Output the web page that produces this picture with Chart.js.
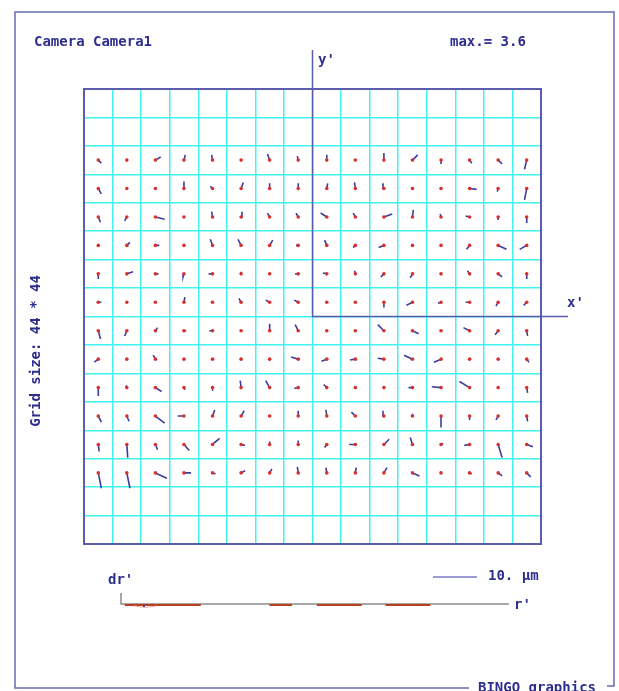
<!DOCTYPE html>
<html><head><meta charset="utf-8">
<script src="https://cdn.jsdelivr.net/npm/chart.js@4"></script>
<style>html,body{margin:0;padding:0;background:#fff;}#wrap{width:619px;height:691px;}</style>
</head><body><div id="wrap"><canvas id="c" width="619" height="691"></canvas></div>
<script>
// ---- data ----
const titleText = "Camera Camera1";
const maxText = "max.= 3.6";
const gridText = "Grid size: 44 * 44";
const scaleText = "10. \u00b5m";
const footerText = "BINGO graphics";
const gridCols = 16;
const gridRows = 16;
const firstVectorRow = 2;           // vector rows (from the top) start here
const scaleBarUm = 10;              // scale bar length in µm
const umToCells = 0.154;            // vector scale: cells per µm
// displacement per grid node, µm (dx to the right, dy upward), rows from top
const dxUm = [
 [0.7,0,1.2,0.3,-0.2,0,-0.5,-0.2,0,0,0,1.2,0,0.5,0.9,-0.5],
 [0.7,0,0,0,-0.5,0.5,0,0,0.2,-0.2,-0.2,0,0.2,1.6,-0.2,-0.5],
 [0.5,-0.5,2.1,0,-0.2,0.2,-0.5,-0.5,-1.4,-0.5,1.9,0.2,-0.2,-0.9,0,0],
 [0.2,0.7,0.9,0,-0.5,-0.7,0.7,-0.5,-0.5,-0.5,-1.2,0,0,-0.7,1.9,-1.6],
 [0,1.4,0.7,-0.2,-0.9,0,0,-0.7,-0.9,-0.2,-0.7,-0.5,0,-0.5,0.9,0],
 [0.7,0,0.2,0.2,0,-0.5,-0.9,-0.9,0,0,0,-1.4,-0.7,-0.9,-0.5,-0.7],
 [0.5,-0.5,0.5,0.5,-0.7,0,0,-0.7,0,0,-1.4,1.4,0,-1.4,-0.7,0.2],
 [-0.9,0,-0.5,-0.2,0.2,-0.2,-0.2,-1.6,-1.2,-1.2,-1.4,-1.9,-1.6,0,0,0.5],
 [0,-0.2,1.4,0.2,0,-0.2,-0.9,-0.9,-0.7,-0.2,0,-0.9,-2.1,-2.3,0,0.2],
 [0.7,0.5,2.1,-1.4,0.5,0.7,0,0,-0.2,-0.9,-0.2,0,0,0,-0.5,0.2],
 [0.2,0.2,0.5,1.2,1.6,0.9,0,0,-0.5,-1.4,1.2,-0.5,0.5,-1.2,0.9,1.4],
 [0.7,0.7,2.6,1.6,0.7,0.9,0.5,-0.2,-0.2,0.2,0.7,1.6,0,0.5,0.9,0.9]
];
const dyUm = [
 [-0.7,0,0.7,1.2,1.2,0,1.4,0.9,1.2,0,1.6,1.2,-0.9,-0.7,-0.9,-2.1],
 [-1.2,0,0,1.6,0.5,1.4,1.2,1.2,1.2,1.4,1.2,0,0,-0.2,-0.7,-2.6],
 [-1.2,-0.9,-0.5,0,1.2,1.2,0.9,0.9,0.9,0.9,0.7,1.6,0.7,0.2,-0.7,-1.4],
 [0,0.7,0,-0.2,1.4,1.4,1.2,0,1.2,-0.5,-0.5,0,0,-0.9,-0.9,-0.9],
 [-1.2,0.5,0,-0.7,0,0.5,0,0,0.2,0.7,-0.7,-0.9,0,0.7,-0.7,-1.2],
 [0,0,0,1.2,0,0.9,0.5,0.5,0,0,-1.2,-0.7,-0.2,0,-0.9,-0.7],
 [-1.9,-1.2,0.7,0,0,0,1.6,1.4,0,0,1.4,-0.7,0,0.7,-0.9,-1.2],
 [-0.7,0,0.9,0,0.2,0,-0.2,0.5,-0.5,-0.2,0.2,0.9,-0.7,0,0,-0.7],
 [-1.9,0.5,-0.9,-0.5,-0.7,1.6,1.6,-0.2,0.7,0,0,0,0.2,1.4,0,-1.2],
 [-1.4,-1.2,-1.6,0,1.4,1.2,0,1.2,1.4,0.9,1.2,0.5,-2.6,-0.9,-0.9,-1.2],
 [-1.6,-3.0,-1.2,-1.4,1.4,-0.2,0.7,0.9,-0.7,0,1.2,1.6,0.2,-0.2,-3.0,-0.5],
 [-3.5,-3.5,-1.2,0,-0.2,0.5,0.9,1.4,1.2,1.2,1.2,-0.7,0,-0.2,-0.7,-0.9]
];
// radial residual strip (r' range and highlighted r' intervals)
const radialMax = 31.1;
const radialSegments = [[0.3, 6.4], [11.9, 13.7], [15.7, 19.3], [21.2, 24.8]];

// ---- build datasets ----
const dots = [];
const segs = [];
dxUm.forEach((row, r) => {
  row.forEach((dx, c) => {
    const x = c + 0.5;
    const y = gridRows - (firstVectorRow + r + 0.5);
    dots.push({x, y});
    segs.push({x, y});
    segs.push({x: x + dx * umToCells, y: y + dyUm[r][c] * umToCells});
    segs.push({x, y: null});
  });
});

const NAVY = '#2e2e8e';
const FRAME = '#6a6ab4';
const FONT = 'bold 14px "DejaVu Sans Mono", "Liberation Mono", monospace';

const decor = {
  id: 'decor',
  beforeDatasetsDraw(chart) {
    const ctx = chart.ctx, xs = chart.scales.x, ys = chart.scales.y, a = chart.chartArea;
    ctx.save();
    ctx.strokeStyle = '#5c5cac'; ctx.lineWidth = 2;
    ctx.strokeRect(a.left, a.top, a.right - a.left, a.bottom - a.top);
    const ox = xs.getPixelForValue(gridCols / 2), oy = ys.getPixelForValue(gridRows / 2);
    ctx.strokeStyle = '#5c5cac'; ctx.lineWidth = 1.5;
    ctx.beginPath();
    ctx.moveTo(ox, 50); ctx.lineTo(ox, oy); ctx.lineTo(568, oy);
    ctx.stroke();
    ctx.restore();
  },
  afterDraw(chart) {
    const ctx = chart.ctx, xs = chart.scales.x;
    ctx.save();
    ctx.strokeStyle = FRAME; ctx.lineWidth = 1.5;
    ctx.beginPath();
    ctx.moveTo(469, 688); ctx.lineTo(15, 688); ctx.lineTo(15, 12);
    ctx.lineTo(614, 12); ctx.lineTo(614, 686); ctx.lineTo(607, 686);
    ctx.stroke();
    ctx.fillStyle = NAVY; ctx.font = FONT; ctx.textBaseline = 'middle'; ctx.textAlign = 'left';
    ctx.fillText(titleText, 34, 42);
    ctx.fillText(maxText, 450, 42);
    ctx.fillText("y'", 318, 60);
    ctx.fillText("x'", 567, 303);
    ctx.fillText("dr'", 108, 580);
    ctx.fillText(scaleText, 488, 576);
    ctx.fillText("r'", 514, 605);
    ctx.textBaseline = 'alphabetic';
    ctx.fillText(footerText, 478, 692);
    ctx.save();
    ctx.translate(36, 351); ctx.rotate(-Math.PI / 2);
    ctx.textAlign = 'center'; ctx.textBaseline = 'middle';
    ctx.fillText(gridText, 0, 0);
    ctx.restore();
    const barLen = xs.getPixelForValue(scaleBarUm * umToCells) - xs.getPixelForValue(0);
    ctx.strokeStyle = '#7a7ac2'; ctx.lineWidth = 1.5;
    ctx.beginPath(); ctx.moveTo(477 - barLen, 577); ctx.lineTo(477, 577); ctx.stroke();
    const r0 = 121, r1 = 509, ry = 604;
    ctx.strokeStyle = '#8c8c8c'; ctx.lineWidth = 1.5;
    ctx.beginPath(); ctx.moveTo(r0, 593); ctx.lineTo(r0, ry); ctx.lineTo(r1, ry); ctx.stroke();
    const rp = v => r0 + (v / radialMax) * (r1 - r0);
    ctx.strokeStyle = '#b8401e'; ctx.lineWidth = 2;
    radialSegments.forEach(s => {
      ctx.beginPath(); ctx.moveTo(rp(s[0]), ry + 1); ctx.lineTo(rp(s[1]), ry + 1); ctx.stroke();
    });
    ctx.strokeStyle = '#f4b4a4'; ctx.lineWidth = 1;
    ctx.beginPath(); ctx.moveTo(134, 606); ctx.quadraticCurveTo(145, 609, 157, 606); ctx.stroke();
    ctx.fillStyle = '#4040a0';
    ctx.fillRect(143, 605, 2, 2);
    ctx.restore();
  }
};

new Chart(document.getElementById('c'), {
  type: 'scatter',
  data: {
    datasets: [
      {type: 'scatter', data: dots, order: 0, pointRadius: 1.8, pointBorderWidth: 0,
       backgroundColor: '#d8302c', borderColor: '#d8302c'},
      {type: 'line', data: segs, order: 1, showLine: true, spanGaps: false, pointRadius: 0,
       borderColor: '#3c3ca0', borderWidth: 1.6, tension: 0, fill: false}
    ]
  },
  options: {
    responsive: false, animation: false, devicePixelRatio: 1,
    layout: {padding: {left: 84, top: 89, right: 78, bottom: 147}},
    plugins: {legend: {display: false}, tooltip: {enabled: false}, title: {display: false}},
    scales: {
      x: {type: 'linear', min: 0, max: gridCols, ticks: {display: false, stepSize: 1},
          grid: {color: '#40f2f2', lineWidth: 1.5, drawTicks: false}, border: {display: false},
          afterFit: s => { s.height = 0; }},
      y: {type: 'linear', min: 0, max: gridRows, ticks: {display: false, stepSize: 1},
          grid: {color: '#40f2f2', lineWidth: 1.5, drawTicks: false}, border: {display: false},
          afterFit: s => { s.width = 0; }}
    }
  },
  plugins: [decor]
});
</script></body></html>
